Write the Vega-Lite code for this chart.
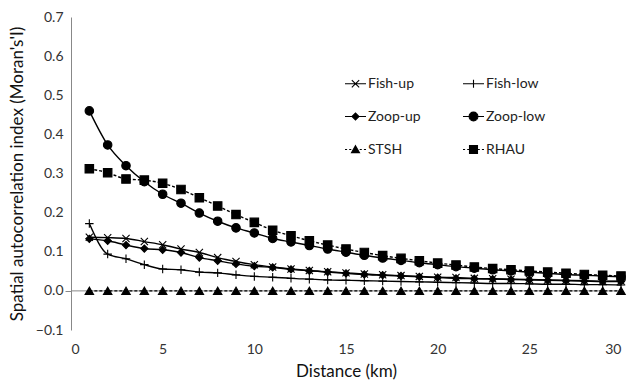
{
  "$schema": "https://vega.github.io/schema/vega-lite/v6.json",
  "width": 550,
  "height": 313,
  "autosize": {"type": "none"},
  "padding": {"left": 71, "top": 17, "right": 8, "bottom": 53},
  "config": {"view": {"stroke": null}, "font": "Lato"},
  "data": {"values": [
    {"d": 1, "Fish-up": 0.137, "Fish-low": 0.172, "Zoop-up": 0.133, "Zoop-low": 0.460, "STSH": 0, "RHAU": 0.312},
    {"d": 2, "Fish-up": 0.136, "Fish-low": 0.094, "Zoop-up": 0.128, "Zoop-low": 0.373, "STSH": 0, "RHAU": 0.302},
    {"d": 3, "Fish-up": 0.134, "Fish-low": 0.082, "Zoop-up": 0.117, "Zoop-low": 0.320, "STSH": 0, "RHAU": 0.286},
    {"d": 4, "Fish-up": 0.126, "Fish-low": 0.067, "Zoop-up": 0.108, "Zoop-low": 0.279, "STSH": 0, "RHAU": 0.283},
    {"d": 5, "Fish-up": 0.118, "Fish-low": 0.056, "Zoop-up": 0.105, "Zoop-low": 0.247, "STSH": 0, "RHAU": 0.275},
    {"d": 6, "Fish-up": 0.107, "Fish-low": 0.054, "Zoop-up": 0.098, "Zoop-low": 0.224, "STSH": 0, "RHAU": 0.259},
    {"d": 7, "Fish-up": 0.098, "Fish-low": 0.048, "Zoop-up": 0.085, "Zoop-low": 0.199, "STSH": 0, "RHAU": 0.238},
    {"d": 8, "Fish-up": 0.085, "Fish-low": 0.046, "Zoop-up": 0.077, "Zoop-low": 0.178, "STSH": 0, "RHAU": 0.217},
    {"d": 9, "Fish-up": 0.075, "Fish-low": 0.041, "Zoop-up": 0.069, "Zoop-low": 0.161, "STSH": 0, "RHAU": 0.195},
    {"d": 10, "Fish-up": 0.067, "Fish-low": 0.037, "Zoop-up": 0.063, "Zoop-low": 0.148, "STSH": 0, "RHAU": 0.175},
    {"d": 11, "Fish-up": 0.061, "Fish-low": 0.035, "Zoop-up": 0.060, "Zoop-low": 0.134, "STSH": 0, "RHAU": 0.155},
    {"d": 12, "Fish-up": 0.056, "Fish-low": 0.032, "Zoop-up": 0.055, "Zoop-low": 0.125, "STSH": 0, "RHAU": 0.141},
    {"d": 13, "Fish-up": 0.052, "Fish-low": 0.030, "Zoop-up": 0.051, "Zoop-low": 0.116, "STSH": 0, "RHAU": 0.128},
    {"d": 14, "Fish-up": 0.049, "Fish-low": 0.028, "Zoop-up": 0.048, "Zoop-low": 0.107, "STSH": 0, "RHAU": 0.117},
    {"d": 15, "Fish-up": 0.046, "Fish-low": 0.027, "Zoop-up": 0.045, "Zoop-low": 0.099, "STSH": 0, "RHAU": 0.107},
    {"d": 16, "Fish-up": 0.043, "Fish-low": 0.026, "Zoop-up": 0.042, "Zoop-low": 0.091, "STSH": 0, "RHAU": 0.098},
    {"d": 17, "Fish-up": 0.041, "Fish-low": 0.025, "Zoop-up": 0.040, "Zoop-low": 0.084, "STSH": 0, "RHAU": 0.090},
    {"d": 18, "Fish-up": 0.039, "Fish-low": 0.024, "Zoop-up": 0.038, "Zoop-low": 0.078, "STSH": 0, "RHAU": 0.083},
    {"d": 19, "Fish-up": 0.037, "Fish-low": 0.023, "Zoop-up": 0.036, "Zoop-low": 0.072, "STSH": 0, "RHAU": 0.077},
    {"d": 20, "Fish-up": 0.035, "Fish-low": 0.022, "Zoop-up": 0.034, "Zoop-low": 0.067, "STSH": 0, "RHAU": 0.071},
    {"d": 21, "Fish-up": 0.034, "Fish-low": 0.021, "Zoop-up": 0.032, "Zoop-low": 0.062, "STSH": 0, "RHAU": 0.066},
    {"d": 22, "Fish-up": 0.032, "Fish-low": 0.020, "Zoop-up": 0.031, "Zoop-low": 0.058, "STSH": 0, "RHAU": 0.061},
    {"d": 23, "Fish-up": 0.031, "Fish-low": 0.019, "Zoop-up": 0.030, "Zoop-low": 0.054, "STSH": 0, "RHAU": 0.057},
    {"d": 24, "Fish-up": 0.030, "Fish-low": 0.019, "Zoop-up": 0.029, "Zoop-low": 0.051, "STSH": 0, "RHAU": 0.054},
    {"d": 25, "Fish-up": 0.029, "Fish-low": 0.018, "Zoop-up": 0.028, "Zoop-low": 0.048, "STSH": 0, "RHAU": 0.051},
    {"d": 26, "Fish-up": 0.028, "Fish-low": 0.017, "Zoop-up": 0.027, "Zoop-low": 0.045, "STSH": 0, "RHAU": 0.048},
    {"d": 27, "Fish-up": 0.027, "Fish-low": 0.017, "Zoop-up": 0.026, "Zoop-low": 0.042, "STSH": 0, "RHAU": 0.045},
    {"d": 28, "Fish-up": 0.026, "Fish-low": 0.016, "Zoop-up": 0.025, "Zoop-low": 0.040, "STSH": 0, "RHAU": 0.042},
    {"d": 29, "Fish-up": 0.025, "Fish-low": 0.016, "Zoop-up": 0.024, "Zoop-low": 0.038, "STSH": 0, "RHAU": 0.040},
    {"d": 30, "Fish-up": 0.025, "Fish-low": 0.015, "Zoop-up": 0.024, "Zoop-low": 0.036, "STSH": 0, "RHAU": 0.038}
  ]},
  "transform": [{"fold": ["Fish-up", "Fish-low", "Zoop-up", "Zoop-low", "STSH", "RHAU"], "as": ["series", "value"]}],
  "encoding": {
    "x": {
      "field": "d", "type": "quantitative",
      "scale": {"domain": [0, 30], "nice": false},
      "axis": {
        "title": "Distance (km)", "values": [0, 5, 10, 15, 20, 25, 30],
        "domain": false, "ticks": false, "grid": false,
        "labelFontSize": 14, "labelColor": "#333", "labelPadding": 12,
        "titleFontSize": 17, "titleFontWeight": "normal", "titleColor": "#111", "titlePadding": 7
      }
    },
    "y": {
      "field": "value", "type": "quantitative",
      "scale": {"domain": [-0.1, 0.7], "nice": false, "zero": false},
      "axis": {
        "title": "Spatial autocorrelation index (Moran's'I)",
        "values": [-0.1, 0, 0.1, 0.2, 0.3, 0.4, 0.5, 0.6, 0.7], "format": ".1f",
        "grid": false, "domainColor": "#888", "domainWidth": 1,
        "tickSize": 6, "tickColor": {"condition": {"test": "datum.value == 0", "value": "#888"}, "value": "transparent"},
        "labelFontSize": 14, "labelColor": "#333", "labelPadding": 2,
        "titleFontSize": 17, "titleFontWeight": "normal", "titleColor": "#111", "titlePadding": 9
      }
    }
  },
  "resolve": {"scale": {"shape": "independent"}, "legend": {"shape": "independent"}},
  "layer": [
    {
      "data": {"values": [{"z": 0}]},
      "mark": {"type": "rule", "color": "#888", "strokeWidth": 1},
      "encoding": {"y": {"field": "z", "type": "quantitative"}, "x": null}
    },
    {
      "transform": [{"filter": "datum.series !== 'STSH' && datum.series !== 'RHAU'"}],
      "mark": {"type": "line", "color": "black", "strokeWidth": 1.4, "interpolate": "monotone"},
      "encoding": {"detail": {"field": "series"}}
    },
    {
      "transform": [{"filter": "datum.series === 'STSH' || datum.series === 'RHAU'"}],
      "mark": {"type": "line", "color": "black", "strokeWidth": 1.4, "strokeDash": [3, 2], "interpolate": "monotone"},
      "encoding": {"detail": {"field": "series"}}
    },
    {
      "mark": {"type": "point", "filled": true, "opacity": 1, "color": "black", "stroke": "black", "strokeWidth": 1.1, "size": 72},
      "encoding": {
        "shape": {
          "field": "series", "type": "nominal",
          "scale": {"domain": ["Fish-up", "Fish-low", "Zoop-up", "Zoop-low", "STSH", "RHAU"],
                    "range": ["M-0.85,-0.85L0.85,0.85M-0.85,0.85L0.85,-0.85", "M-1,0H1M0,-1V1", "M-0.85,0L0,-0.85L0.85,0L0,0.85Z", "circle", "triangle-up", "square"]},
          "legend": null
        }
      }
    },
    {
      "transform": [{"filter": "false"}],
      "mark": {"type": "point", "filled": false, "opacity": 1, "fill": "black", "stroke": "black", "strokeWidth": 1.1},
      "encoding": {
        "shape": {
          "field": "series", "type": "nominal",
          "scale": {"domain": ["Fish-up", "Fish-low", "Zoop-up", "Zoop-low", "STSH", "RHAU"],
                    "range": [
                      "M-1,0H1M-0.35,-0.35L0.35,0.35M-0.35,0.35L0.35,-0.35",
                      "M-1,0H1M0,-0.38V0.38",
                      "M-1,0H1M-0.33,0L0,-0.33L0.33,0L0,0.33Z",
                      "M-1,0H1M-0.42,0A0.42,0.42,0,1,0,0.42,0A0.42,0.42,0,1,0,-0.42,0Z",
                      "M-1,0H-0.8M-0.6,0H-0.4M0.4,0H0.6M0.8,0H1M0,-0.36L0.38,0.3L-0.38,0.3Z",
                      "M-1,0H-0.8M-0.6,0H-0.4M0.4,0H0.6M0.8,0H1M-0.38,-0.38H0.38V0.38H-0.38Z"
                    ]},
          "legend": {
            "title": null, "orient": "none", "legendX": 273, "legendY": 55, "columns": 2, "direction": "horizontal",
            "padding": 0, "rowPadding": 14, "columnPadding": 39,
            "labelFontSize": 14, "labelColor": "#222", "labelOffset": 1,
            "symbolSize": 441, "symbolStrokeWidth": 1.1, "symbolOpacity": 1,
            "encode": {
              "symbols": {
                "fill": {"value": "black"},
                "stroke": {"value": "black"},
                "strokeWidth": {"value": 1.1}
              }
            }
          }
        }
      }
    }
  ]
}
